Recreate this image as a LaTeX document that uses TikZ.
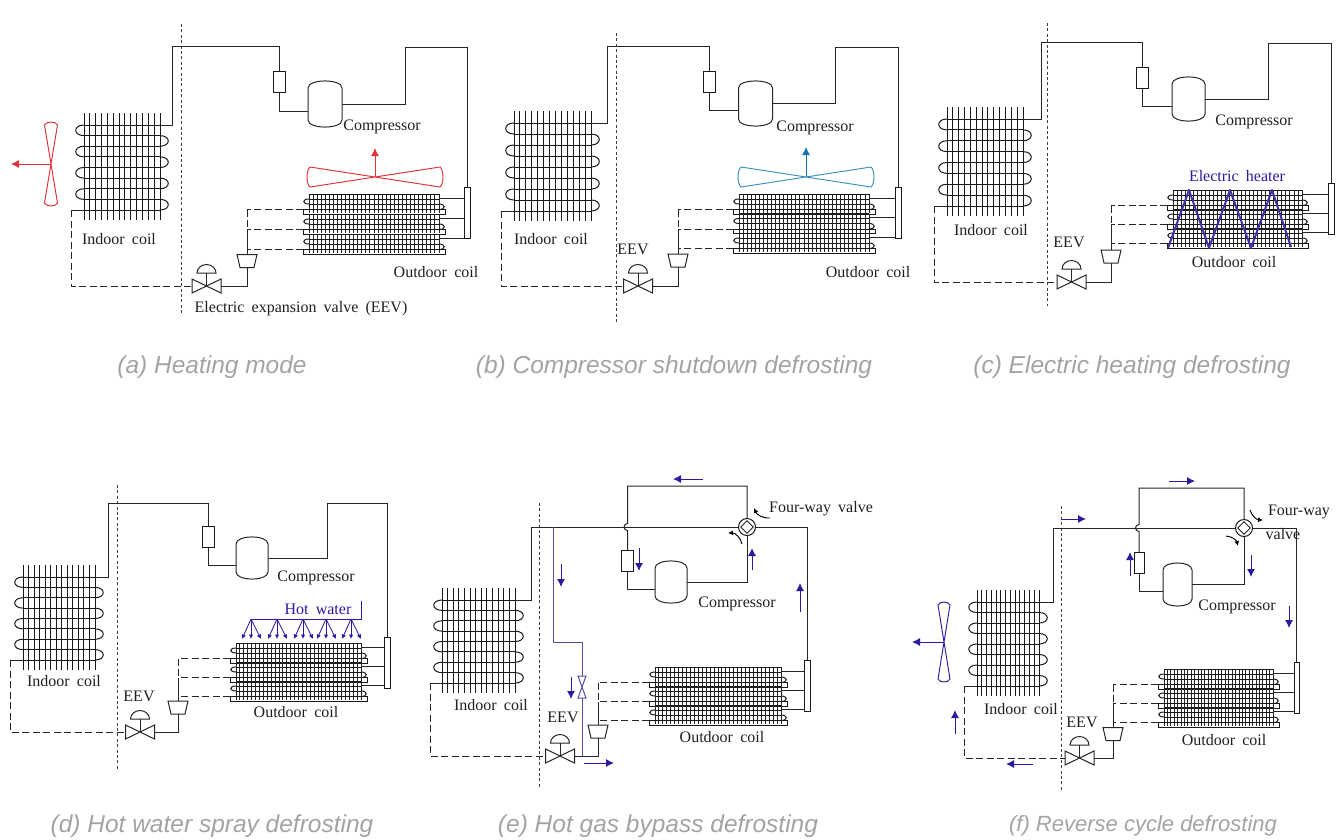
\documentclass[tikz,border=0pt]{standalone}
\usepackage{fontspec}
\usetikzlibrary{arrows.meta,shapes.geometric}
\setmainfont{Liberation Serif}[WordSpace=1.8]
\newfontfamily\capfont{Liberation Sans}
\definecolor{flowblue}{HTML}{2A1A9E}
\definecolor{bypassblue}{HTML}{5B4A9E}
\definecolor{fanred}{HTML}{E03038}
\definecolor{fanteal}{HTML}{3A8FC0}
\definecolor{arrowteal}{HTML}{1070B0}
\tikzset{
	pipe/.style={line width=1pt,black!85},
	dashpipe/.style={pipe,dash pattern=on 7pt off 3.5pt},
	divider/.style={line width=1pt,black!75,dash pattern=on 3pt off 2.4pt},
	fin/.style={line width=1pt,black!90},
	tube/.style={line width=1pt,black!90},
	ofin/.style={line width=0.9pt,black!85},
	resbox/.style={draw=black!90,line width=1pt,fill=white,minimum width=12pt,minimum height=21pt,inner sep=0pt},
	headbox/.style={draw=black!90,line width=1pt,fill=white,minimum width=6pt,minimum height=51pt,inner sep=0pt},
	compbox/.style={minimum width=#1,inner sep=0pt,outer sep=0pt},
	valvebox/.style={minimum width=29pt,minimum height=14pt,inner sep=0pt,outer sep=0pt},
	smallvalvebox/.style={minimum width=8pt,minimum height=22pt,inner sep=0pt,outer sep=0pt},
	distbox/.style={minimum width=20pt,minimum height=13pt,inner sep=0pt,outer sep=0pt},
	fwcircle/.style={circle,draw=black!90,line width=1pt,fill=white,minimum size=17pt,inner sep=0pt},
	fwdiamond/.style={diamond,draw=black!85,line width=0.9pt,minimum size=13pt,inner sep=0pt},
	flow/.style={line width=0.95pt,flowblue,-{Latex[length=8pt,width=8pt]}},
	spray/.style={line width=0.95pt,flowblue},
	sprayarrow/.style={line width=0.85pt,flowblue,-{Latex[length=4.5pt,width=4.5pt]}},
	turn/.style={line width=0.95pt,black,-{Latex[length=5pt,width=5pt]}},
	heater/.style={line width=2pt,flowblue!90,line join=round},
	bypass/.style={line width=1pt,bypassblue},
	lbl/.style={font=\fontsize{16}{16}\selectfont,text=black!88,inner sep=0pt},
	bluelbl/.style={lbl,text=flowblue},
	capt/.style={font=\capfont\itshape\fontsize{24.5}{25}\selectfont,text=black!36,inner sep=0pt}
}
\newcommand{\indoorcoil}[5]{
	\coordinate (#1-top) at (#3,#4);
	\coordinate (#1-bot) at (#2,#5);
	\foreach \fn in {0,...,13}
		\draw[fin] ({#2+\fn*(#3-#2)/13},{#4-12}) -- ({#2+\fn*(#3-#2)/13},{#5+10});
	\foreach \tb in {0,...,8}
		\draw[tube] (#2,{#4+\tb*(#5-#4)/8}) -- (#3,{#4+\tb*(#5-#4)/8});
	\foreach \tb in {0,2,4,6}
		\draw[tube] (#2,{#4+\tb*(#5-#4)/8}) .. controls ({#2-11},{#4+\tb*(#5-#4)/8}) and ({#2-11},{#4+(\tb+1)*(#5-#4)/8}) .. (#2,{#4+(\tb+1)*(#5-#4)/8});
	\foreach \tb in {1,3,5,7}
		\draw[tube] (#3,{#4+\tb*(#5-#4)/8}) .. controls ({#3+11},{#4+\tb*(#5-#4)/8}) and ({#3+11},{#4+(\tb+1)*(#5-#4)/8}) .. (#3,{#4+(\tb+1)*(#5-#4)/8});
}
\newcommand{\outdoorcoil}[5]{
	\foreach \bk in {0,1,2} {
		\pgfmathsetmacro{\yy}{#4+\bk*(#5-#4-20)/2}
		\coordinate (#1-r\bk) at (#3,{\yy+4});
		\coordinate (#1-l\bk) at ({#2-6},{\yy+15.5});
		\foreach \fn in {0,...,32}
			\draw[ofin] ({#2+\fn*(#3-#2)/32},\yy) -- ({#2+\fn*(#3-#2)/32},{\yy+19});
		\foreach \ty in {0,5,10}
			\draw[tube] (#2,{\yy+\ty}) -- (#3,{\yy+\ty});
		\draw[tube] ({#2-6},{\yy+15.5}) rectangle ({#3+6},{\yy+20});
		\draw[tube] (#2,{\yy+5}) .. controls ({#2-7},{\yy+5}) and ({#2-7},{\yy+10}) .. (#2,{\yy+10});
		\draw[tube] (#3,{\yy+10}) .. controls ({#3+7},{\yy+10}) and ({#3+7},{\yy+15.5}) .. (#3,{\yy+15.5});
	}
}
\newcommand{\compressor}[5]{
	\node[compbox=#4,minimum height=#5] (#1) at (#2,#3) {};
	\draw[pipe] ([yshift=-7pt]#1.north west) .. controls ([yshift=2.4pt]#1.north west) and ([yshift=2.4pt]#1.north east) .. ([yshift=-7pt]#1.north east)
		-- ([yshift=7pt]#1.south east) .. controls ([yshift=-2.4pt]#1.south east) and ([yshift=-2.4pt]#1.south west) .. ([yshift=7pt]#1.south west) -- cycle;
}
\newcommand{\expvalve}[3]{
	\node[valvebox] (#1) at (#2,#3) {};
	\draw[pipe] (#1.north west) -- (#1.south east) -- (#1.north east) -- (#1.south west) -- cycle;
	\draw[pipe] (#1.center) -- ([yshift=13pt]#1.center);
	\draw[pipe] ([xshift=-9.5pt,yshift=13pt]#1.center) arc[start angle=180,end angle=0,x radius=9.5pt,y radius=8.5pt] -- cycle;
}
\newcommand{\distrib}[3]{
	\node[distbox] (#1) at (#2,#3) {};
	\draw[pipe] (#1.north west) -- (#1.north east) -- ([xshift=-3pt]#1.south east) -- ([xshift=3pt]#1.south west) -- cycle;
}
\newcommand{\fourway}[3]{
	\node[fwcircle] (#1) at (#2,#3) {};
	\node[fwdiamond] (#1-in) at (#2,#3) {};
}
\newcommand{\fan}[7]{
	\coordinate (#1) at (#2,#3);
	\begin{scope}[shift={(#2,#3)},rotate=#6]
		\draw[line width=0.95pt,#7] ({-#4},{-#5}) -- (#4,#5) .. controls ({#4+4},{#5*0.7}) and ({#4+4},{-#5*0.7}) .. (#4,{-#5})
			-- ({-#4},#5) .. controls ({-#4-4},{#5*0.7}) and ({-#4-4},{-#5*0.7}) .. ({-#4},{-#5}) -- cycle;
	\end{scope}
}
\newcommand{\flowmark}[5]{
	\coordinate (#1-s) at (#2,#3);
	\coordinate (#1-e) at (#4,#5);
	\draw[flow] (#1-s) -- (#1-e);
}
\newcommand{\coilpipes}[1]{
	\foreach \bk in {0,1,2} {
		\draw[pipe] (#1-r\bk) -- (#1-r\bk -| #1-head.west);
		\draw[dashpipe] (#1-l\bk) -- (#1-l\bk -| #1-dist.north);
	}
	\draw[dashpipe] (#1-l0 -| #1-dist.north) -- (#1-l1 -| #1-dist.north);
	\draw[pipe] (#1-l1 -| #1-dist.north) -- (#1-dist.north);
	\draw[pipe] (#1-dist.south) |- (#1-valve.east);
	\draw[pipe] (#1-bot) -- (#1-bot -| #1-drop);
	\draw[dashpipe] (#1-bot -| #1-drop) |- (#1-valve.west);
}
\newcommand{\maincycle}[1]{
	\draw[pipe] (#1-top) -| (#1-up) -| (#1-res.north);
	\draw[pipe] (#1-res.south) |- ([yshift=-7pt]#1-comp.west);
	\draw[pipe] (#1-comp.east) -| (#1-ris) -| (#1-head.north);
}
\newcommand{\revcycle}[1]{
	\draw[pipe] (#1-top) -| (#1-up) -- (#1-fw.west);
	\draw[pipe] (#1-fw.east) -| (#1-head.north);
	\draw[pipe] (#1-fw.north) |- (#1-loop) -- ([yshift=3.5pt]#1-hop) arc[start angle=90,end angle=270,radius=3.5pt] -- (#1-res.north);
	\draw[pipe] (#1-res.south) |- ([yshift=-7pt]#1-comp.west);
	\draw[pipe] (#1-comp.east) -| (#1-fw.south);
}
\begin{document}
\begin{tikzpicture}[x=1pt,y=-1pt]
	\useasboundingbox (0,0) rectangle (1343,839);

	% heating mode
	\coordinate (a-divt) at (181,24);
	\coordinate (a-divb) at (181,314);
	\draw[divider] (a-divt) -- (a-divb);
	\indoorcoil{a}{84}{160}{125}{210}
	\outdoorcoil{a}{309}{439}{194}{254}
	\node[resbox] (a-res) at (279,81.5) {};
	\node[headbox] (a-head) at (467.5,213) {};
	\distrib{a-dist}{247}{261}
	\compressor{a-comp}{325}{104}{34pt}{46pt}
	\expvalve{a-valve}{206.5}{286}
	\coordinate (a-up) at (172.5,46);
	\coordinate (a-ris) at (405,47);
	\coordinate (a-drop) at (71,286);
	\maincycle{a}
	\coilpipes{a}
	\fan{a-fan1}{51}{164}{39}{6.5}{90}{fanred}
	\fan{a-fan2}{375}{177}{65}{10}{0}{fanred}
	\coordinate (a-tip1) at (11,164);
	\coordinate (a-tip2) at (375,148);
	\draw[flow,fanred] (a-fan1) -- (a-tip1);
	\draw[flow,fanred] (a-fan2) -- (a-tip2);
	\node[lbl] (a-lin) at (119,239) {Indoor coil};
	\node[lbl] (a-lcp) at (382,127) {Compressor};
	\node[lbl] (a-lout) at (436,272) {Outdoor coil};
	\node[lbl] (a-leev) at (301,309) {Electric expansion valve (EEV)};
	\node[capt] (a-cap) at (212,367) {(a) Heating mode};

	% compressor shutdown
	\coordinate (b-divt) at (616,33);
	\coordinate (b-divb) at (616,322);
	\draw[divider] (b-divt) -- (b-divb);
	\indoorcoil{b}{514}{591}{123}{211}
	\outdoorcoil{b}{739}{869}{194}{253}
	\node[resbox] (b-res) at (709.5,82) {};
	\node[headbox] (b-head) at (898,213) {};
	\distrib{b-dist}{678}{260.5}
	\compressor{b-comp}{755.5}{103.5}{34pt}{45pt}
	\expvalve{b-valve}{638}{286}
	\coordinate (b-up) at (607,46);
	\coordinate (b-ris) at (835,47);
	\coordinate (b-drop) at (501,286);
	\maincycle{b}
	\coilpipes{b}
	\fan{b-fan}{806}{177}{65}{10}{0}{fanteal}
	\coordinate (b-tip) at (806,147);
	\draw[flow,arrowteal] (b-fan) -- (b-tip);
	\node[lbl] (b-lin) at (551,239) {Indoor coil};
	\node[lbl] (b-leev) at (633,249) {EEV};
	\node[lbl] (b-lcp) at (815,128) {Compressor};
	\node[lbl] (b-lout) at (868,272) {Outdoor coil};
	\node[capt] (b-cap) at (674,367) {(b) Compressor shutdown defrosting};

	% electric heater
	\coordinate (c-divt) at (1047,23);
	\coordinate (c-divb) at (1047,306);
	\draw[divider] (c-divt) -- (c-divb);
	\indoorcoil{c}{947}{1023}{119}{206}
	\outdoorcoil{c}{1173}{1302}{190}{248}
	\node[resbox] (c-res) at (1142,77.5) {};
	\node[headbox] (c-head) at (1331,208.5) {};
	\distrib{c-dist}{1111}{256.5}
	\compressor{c-comp}{1188.5}{99}{33pt}{44pt}
	\expvalve{c-valve}{1071.5}{282}
	\coordinate (c-up) at (1041,42);
	\coordinate (c-ris) at (1268,43);
	\coordinate (c-drop) at (934,282);
	\maincycle{c}
	\coilpipes{c}
	\draw[heater] (1168,248) -- (1189,190) -- (1209,248) -- (1230,190) -- (1251,248) -- (1272,190) -- (1291,247);
	\node[bluelbl] (c-lheat) at (1237,176) {Electric heater};
	\node[lbl] (c-lin) at (991,230) {Indoor coil};
	\node[lbl] (c-leev) at (1069,242) {EEV};
	\node[lbl] (c-lcp) at (1254,122) {Compressor};
	\node[lbl] (c-lout) at (1234,262) {Outdoor coil};
	\node[capt] (c-cap) at (1132,367) {(c) Electric heating defrosting};

	% hot water spray
	\coordinate (d-divt) at (117,485);
	\coordinate (d-divb) at (117,770);
	\draw[divider] (d-divt) -- (d-divb);
	\indoorcoil{d}{23}{95}{577}{660}
	\outdoorcoil{d}{236}{361}{643}{701}
	\node[resbox] (d-res) at (208,537) {};
	\node[headbox] (d-head) at (387,662.5) {};
	\distrib{d-dist}{178}{707.5}
	\compressor{d-comp}{252}{558}{32pt}{42pt}
	\expvalve{d-valve}{140}{732}
	\coordinate (d-up) at (108,503);
	\coordinate (d-ris) at (327,503);
	\coordinate (d-drop) at (10,732);
	\maincycle{d}
	\coilpipes{d}
	\coordinate (d-hs) at (361,601);
	\coordinate (d-noz) at (251,619);
	\draw[spray] (d-hs) |- (d-noz);
	\foreach \nz in {251,277,303,326,351} {
		\coordinate (d-noz\nz) at (\nz,619);
		\foreach \dx in {-9,0,10}
			\draw[sprayarrow] (d-noz\nz) -- ++(\dx,20);
	}
	\node[bluelbl] (d-lhot) at (318,609) {Hot water};
	\node[lbl] (d-lin) at (64,681) {Indoor coil};
	\node[lbl] (d-leev) at (139,696) {EEV};
	\node[lbl] (d-lcp) at (316,578) {Compressor};
	\node[lbl] (d-lout) at (296,712) {Outdoor coil};
	\node[capt] (d-cap) at (212,826) {(d) Hot water spray defrosting};

	% hot gas bypass
	\coordinate (e-divt) at (539,503);
	\coordinate (e-divb) at (539,788);
	\draw[divider] (e-divt) -- (e-divb);
	\indoorcoil{e}{442}{515}{600}{683}
	\outdoorcoil{e}{655}{781}{667}{725}
	\node[resbox] (e-res) at (627.5,561) {};
	\node[headbox] (e-head) at (807,686) {};
	\distrib{e-dist}{598}{731.5}
	\compressor{e-comp}{671}{582}{32pt}{42pt}
	\expvalve{e-valve}{560}{756}
	\fourway{e-fw}{747}{527}
	\coordinate (e-up) at (531,527);
	\coordinate (e-loop) at (627.5,486);
	\coordinate (e-hop) at (627.5,527);
	\coordinate (e-drop) at (430,756);
	\revcycle{e}
	\coilpipes{e}
	\node[smallvalvebox] (e-bv) at (582,687) {};
	\draw[pipe,bypassblue] (e-bv.north west) -- (e-bv.north east) -- (e-bv.south west) -- (e-bv.south east) -- cycle;
	\coordinate (e-tap) at (553,527);
	\coordinate (e-bend) at (582,642);
	\draw[bypass] (e-tap) |- (e-bend) -- (e-bv.north);
	\draw[bypass] (e-bv.south) -- (e-bv.south |- e-valve.east);
	\flowmark{e-f1}{703}{479}{673}{479}
	\flowmark{e-f2}{561}{564}{561}{587}
	\flowmark{e-f3}{639}{548}{639}{571}
	\flowmark{e-f4}{752}{570}{752}{548}
	\flowmark{e-f5}{800}{612}{800}{583}
	\flowmark{e-f6}{571}{677}{571}{699}
	\flowmark{e-f7}{584}{763}{614}{763}
	\draw[turn] (770,518) to[bend left=35] (754,508);
	\draw[turn] (742,544) to[bend right=40] (728,533);
	\node[lbl] (e-lfw) at (821,509) {Four-way valve};
	\node[lbl] (e-lcp) at (737,604) {Compressor};
	\node[lbl] (e-lin) at (491,705) {Indoor coil};
	\node[lbl] (e-leev) at (563,717) {EEV};
	\node[lbl] (e-lout) at (722,737) {Outdoor coil};
	\node[capt] (e-cap) at (658,826) {(e) Hot gas bypass defrosting};

	% reverse cycle
	\coordinate (f-divt) at (1061,506);
	\coordinate (f-divb) at (1061,790);
	\draw[divider] (f-divt) -- (f-divb);
	\indoorcoil{f}{977}{1039}{602}{686}
	\outdoorcoil{f}{1164}{1273}{669}{727}
	\node[resbox,minimum width=10pt] (f-res) at (1139,563) {};
	\node[headbox,minimum width=5pt] (f-head) at (1296.5,688) {};
	\distrib{f-dist}{1113}{734}
	\compressor{f-comp}{1177.5}{584.5}{29pt}{43pt}
	\expvalve{f-valve}{1079.5}{758}
	\fourway{f-fw}{1244}{528}
	\coordinate (f-up) at (1053,528);
	\coordinate (f-loop) at (1139,488);
	\coordinate (f-hop) at (1139,528);
	\coordinate (f-drop) at (964,758);
	\revcycle{f}
	\coilpipes{f}
	\fan{f-fan}{944}{642}{37}{6}{90}{flowblue}
	\coordinate (f-tip) at (912,642);
	\draw[flow] (f-fan) -- (f-tip);
	\flowmark{f-f1}{1169}{481}{1195}{481}
	\flowmark{f-f2}{1061}{519}{1086}{519}
	\flowmark{f-f3}{1130}{576}{1130}{552}
	\flowmark{f-f4}{1251}{555}{1251}{577}
	\flowmark{f-f5}{1289}{606}{1289}{628}
	\flowmark{f-f6}{955}{734}{955}{710}
	\flowmark{f-f7}{1033}{764}{1006}{764}
	\draw[turn] (1250,510) to[bend right=35] (1263,520);
	\draw[turn] (1226,536) to[bend left=35] (1238,546);
	\node[lbl] (f-lfw) at (1299,512) {Four-way};
	\node[lbl] (f-lfw2) at (1283,534) {valve};
	\node[lbl] (f-lcp) at (1237,607) {Compressor};
	\node[lbl] (f-lin) at (1021,709) {Indoor coil};
	\node[lbl] (f-leev) at (1082,722) {EEV};
	\node[lbl] (f-lout) at (1224,740) {Outdoor coil};
	\node[capt,font=\capfont\itshape\fontsize{22}{25}\selectfont] (f-cap) at (1143,826) {(f) Reverse cycle defrosting};
\end{tikzpicture}
\end{document}
